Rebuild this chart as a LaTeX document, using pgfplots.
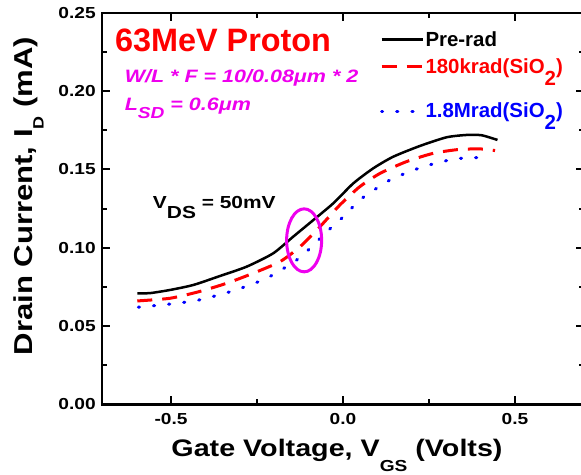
\documentclass[border=0pt]{standalone}
\usepackage{fontspec}
\setmainfont{Liberation Sans}[FakeStretch=1.2]
\newfontfamily\ns{Liberation Sans}
\usepackage{pgfplots}
\pgfplotsset{compat=1.18}
\definecolor{myred}{RGB}{255,0,0}
\definecolor{myblue}{RGB}{0,0,255}
\definecolor{mymag}{RGB}{238,0,238}
\newcommand\fs[1]{\fontsize{#1pt}{#1pt}\selectfont\bfseries}
\newcommand\sub[3]{\raisebox{-#2}{\fontsize{#1}{#1}\selectfont #3}}

\pgfplotstableread{
x y
-0.598 0.0709
-0.561 0.0710
-0.503 0.0730
-0.435 0.0762
-0.358 0.0819
-0.280 0.0879
-0.203 0.0964
-0.145 0.1070
-0.086 0.1177
-0.028 0.1284
0.030 0.1411
0.088 0.1507
0.146 0.1581
0.224 0.1650
0.301 0.1705
0.360 0.1720
0.403 0.1718
0.449 0.1688
}\prerad

\pgfplotstableread{
x y
-0.598 0.0660
-0.503 0.0677
-0.419 0.0719
-0.338 0.0773
-0.261 0.0837
-0.183 0.0911
-0.125 0.1006
-0.067 0.1134
-0.009 0.1273
0.049 0.1390
0.108 0.1475
0.185 0.1550
0.263 0.1603
0.340 0.1628
0.408 0.1630
0.442 0.1620
}\krad

\pgfplotstableread{
x y
-0.595 0.0620
-0.503 0.0640
-0.419 0.0666
-0.319 0.0725
-0.222 0.0805
-0.135 0.0921
-0.086 0.1017
-0.047 0.1102
0.001 0.1198
0.049 0.1305
0.098 0.1380
0.146 0.1443
0.233 0.1517
0.320 0.1565
0.379 0.1575
0.427 0.1571
}\mrad

\begin{document}
\begin{tikzpicture}
\begin{axis}[
  name=ax,
  scale only axis,
  width=481.6bp, height=391.5bp,
  xmin=-0.7, xmax=0.7, ymin=0, ymax=0.25,
  xtick={-0.5,0,0.5}, xticklabels={-0.5,0.0,0.5},
  ytick={0,0.05,0.10,0.15,0.20,0.25},
  yticklabels={0.00,0.05,0.10,0.15,0.20,0.25},
  minor x tick num=1, minor y tick num=1,
  tick align=inside,
  major tick length=8bp, minor tick length=5bp,
  axis line style={line width=2.5bp},
  every tick/.style={line width=2bp, black},
  tick label style={font=\fs{16}},
  yticklabel style={xshift=-3bp},
  xticklabel style={yshift=-6bp},
  xlabel={Gate Voltage, V\sub{16pt}{14.5bp}{GS} (Volts)},
  ylabel={Drain Current, I\sub{15pt}{11.5bp}{D} (mA)},
  xlabel style={font=\fs{24}, at={(axis description cs:0.5,0)}, anchor=base, yshift=-52.5bp, xshift=-6bp, inner sep=0pt},
  ylabel style={font=\fs{26}, at={(axis description cs:0,0.5)}, anchor=base, xshift=12.5bp, yshift=70bp, inner sep=0pt},
  legend style={at={(axis cs:0.107,0.2393)}, anchor=north west, draw=none, fill=none,
    font=\ns\fs{20.5}, row sep=8bp, inner sep=0pt,
    nodes={inner sep=1.5bp},
    cells={anchor=base west},
    /tikz/every even column/.append style={column sep=5bp}},
  legend image code/.code={\draw[#1] (0bp,6.5bp) -- (41bp,6.5bp);},
]
\addplot[black, line width=2.5bp, smooth, tension=0.4] table[x=x,y=y]{\prerad};
\addlegendentry{Pre-rad}
\addplot[myred, line width=3bp, dash pattern=on 15bp off 10bp, smooth, tension=0.4] table[x=x,y=y]{\krad};
\addlegendentry[text depth=18.5bp]{\textcolor{myred}{180krad(SiO\sub{20.5pt}{11.7bp}{2})}}
\addplot[myblue, line width=3bp, line cap=round, dash pattern=on 1.2bp off 14bp, smooth, tension=0.4] table[x=x,y=y]{\mrad};
\addlegendentry[text depth=14.5bp]{\textcolor{myblue}{1.8Mrad(SiO\sub{20.5pt}{11.7bp}{2})}}

\draw[mymag, line width=3bp] (axis cs:-0.113,0.1047) ellipse [x radius=17.5bp, y radius=31.5bp];
\node[anchor=base west, inner sep=0pt, text=myred, font=\ns\fs{32.5}] at (axis cs:-0.663,0.2252) {63MeV Proton};
\node[anchor=base west, inner sep=0pt, text=mymag, font=\fs{18}\itshape] at (axis cs:-0.635,0.2052) {W/L * F = 10/0.08μm * 2};
\node[anchor=base west, inner sep=0pt, text=mymag, font=\fs{18}\itshape] at (axis cs:-0.635,0.1873) {L\sub{16pt}{7.3bp}{SD} = 0.6μm};
\node[anchor=base west, inner sep=0pt, font=\fs{17.5}] at (axis cs:-0.553,0.1253) {V\sub{17.5pt}{10.7bp}{DS} = 50mV};
\end{axis}
\pgfresetboundingbox
\path ([xshift=-102.2bp, yshift=-70.7bp]ax.south west) rectangle ([xshift=-2.8bp, yshift=12.8bp]ax.north east);
\end{tikzpicture}
\end{document}
